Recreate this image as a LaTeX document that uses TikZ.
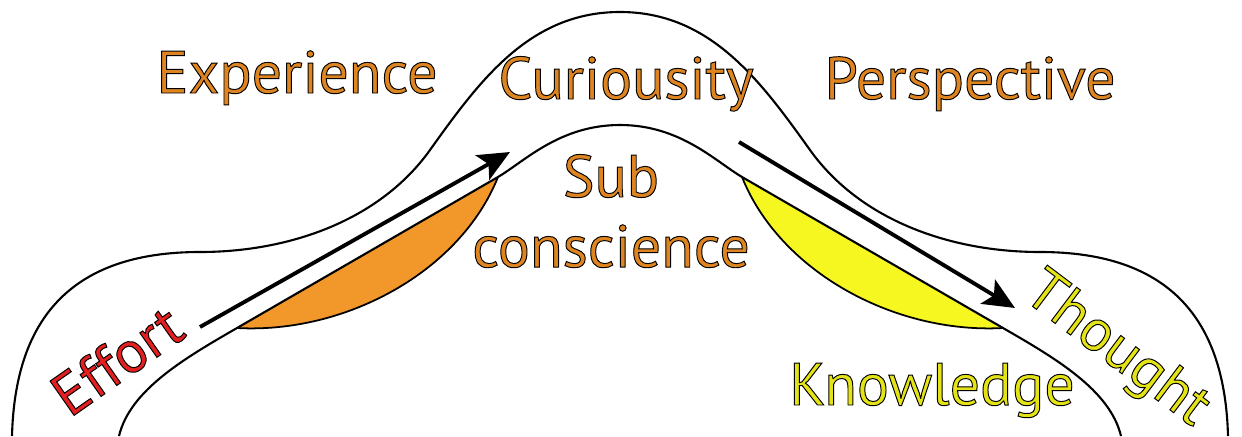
\documentclass[tikz,border=0pt]{standalone}
\usepackage{fontspec}
\setmainfont{PT Sans}
\newfontfamily\inkedfont[FakeBold=1.6]{PT Sans}
\usepackage{tikz}
\usetikzlibrary{arrows.meta,positioning}
\usepackage{xcolor}

\definecolor{lensorange}{RGB}{242,152,42}
\definecolor{lensyellow}{RGB}{246,246,32}

% fill colour inside, black rim round the letters
\newcommand{\inked}[2]{\special{pdf:bcolor [#1] [0 0 0]}#2\special{pdf:ecolor}}

\begin{document}
\begin{tikzpicture}[
        x=0.01cm,y=-0.01cm,
        node distance=2mm and 6mm,
        word/.style={font=\inkedfont\fontsize{17}{20}\selectfont,inner sep=0pt,anchor=base},
        hill/.style={line width=0.6pt},
        lens/.style={draw,line width=0.5pt},
        push/.style={-{Stealth[length=9pt,width=8pt,inset=2pt]},line width=1.1pt}
      ]
      \useasboundingbox (0,0) rectangle (1242,436);

      % outer hill
      \draw[hill] (12,436) .. controls (15,320) and (70,252) .. (200,252)
        .. controls (290,252) and (380,220) .. (430,150)
        .. controls (480,80) and (530,12) .. (620,12)
        .. controls (710,12) and (760,80) .. (810,150)
        .. controls (860,220) and (950,252) .. (1040,252)
        .. controls (1170,252) and (1225,320) .. (1228,436);

      % lenses under the inner hill
      \fill[lensorange] (237,328) .. controls (345,334) and (460,272) .. (498,177) -- cycle;
      \draw[lens] (237,328) .. controls (345,334) and (460,272) .. (498,177);
      \fill[lensyellow] (1003,328) .. controls (895,334) and (780,272) .. (742,177) -- cycle;
      \draw[lens] (1003,328) .. controls (895,334) and (780,272) .. (742,177);

      % inner hill
      \draw[hill] (119,436) .. controls (130,390) and (185,358) .. (237,328)
        -- (498,177) .. controls (525,161) and (560,125) .. (620,125)
        .. controls (680,125) and (715,161) .. (742,177)
        -- (1003,328) .. controls (1055,358) and (1110,390) .. (1121,436);

      % words
      \node[word] (exp) at (297,93) {\inked{0.87 0.52 0.13}{Experience}};
      \node[word] (cur) at (626,99) {\inked{0.87 0.52 0.13}{Curiousity}};
      \node[word] (per) at (970,99) {\inked{0.87 0.52 0.13}{Perspective}};
      \node[word] (sub) at (611,197) {\inked{0.87 0.52 0.13}{Sub}};
      \node[word,below=7mm of sub.base,anchor=base] (con) {\inked{0.87 0.52 0.13}{conscience}};
      \node[word] (know) at (932,405) {\inked{0.89 0.89 0.09}{Knowledge}};
      \node[word,rotate=35,anchor=center] (eff) at (117,360) {\inked{0.89 0.12 0.12}{Effort}};
      \node[word,rotate=-37,anchor=center] (tho) at (1116,351) {\inked{0.89 0.89 0.09}{Thought}};

      % arrows
      \coordinate (effstart) at (200,327);
      \coordinate (curtop) at (510,152);
      \coordinate (curend) at (739,142);
      \coordinate (thoend) at (1015,308);
      \draw[push] (effstart) -- (curtop);
      \draw[push] (curend) -- (thoend);
    \end{tikzpicture}
\end{document}
